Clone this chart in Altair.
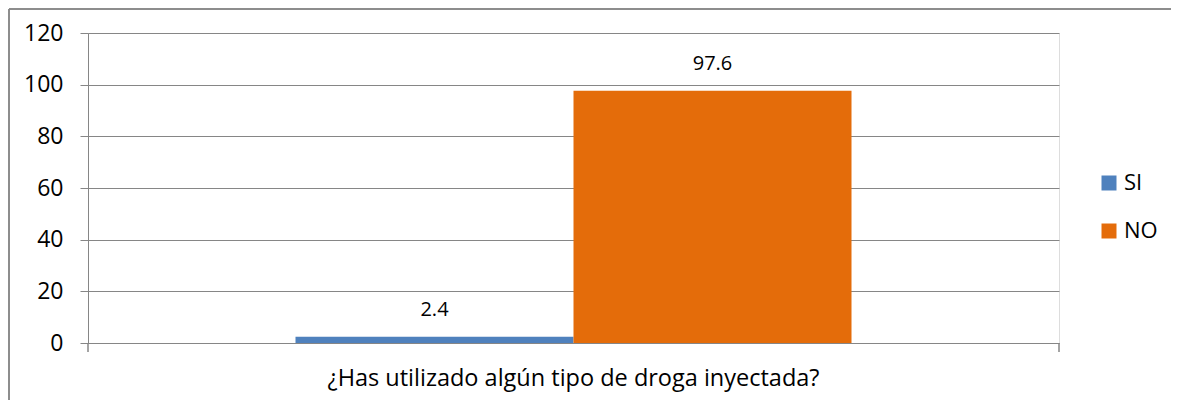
import altair as alt
import pandas as pd

# ---- data ----
question = ["¿Has utilizado algún tipo de droga inyectada?"]
series = ["SI", "NO"]
values = [2.4, 97.6]
y_ticks = [0, 20, 40, 60, 80, 100, 120]
colors = ["#4F81BD", "#E46C0A"]

df = pd.DataFrame({
    "pregunta": question * len(series),
    "serie": series,
    "valor": values,
})

FONT = "Open Sans"
GRID = "#868686"
W, H = 971, 310
FS = 23

x_enc = alt.X(
    "pregunta:N",
    scale=alt.Scale(paddingInner=0, paddingOuter=0.3732),
    axis=alt.Axis(
        title=None, labelAngle=0, ticks=False, domain=True, domainColor=GRID,
        domainWidth=1, labelPadding=23, labelFontSize=23.5, labelFont=FONT,
        labelColor="#000000", labelLimit=0, grid=False,
    ),
)
xo_enc = alt.XOffset("serie:N", sort=series,
                     scale=alt.Scale(paddingInner=0, paddingOuter=0))
y_enc = alt.Y(
    "valor:Q",
    scale=alt.Scale(domain=[0, 120], nice=False, zero=True),
    axis=alt.Axis(
        title=None, values=y_ticks, tickSize=8, tickColor=GRID, tickWidth=1,
        domainColor=GRID, domainWidth=1, grid=True, gridColor=GRID, gridWidth=1,
        labelFontSize=FS, labelFont=FONT, labelColor="#000000", labelPadding=17,
    ),
)

base = alt.Chart(df)

bars = base.mark_bar().encode(
    x=x_enc,
    xOffset=xo_enc,
    y=y_enc,
    color=alt.Color(
        "serie:N", sort=series,
        scale=alt.Scale(domain=series, range=colors),
        legend=alt.Legend(
            title=None, orient="none", legendX=1010, legendY=139,
            symbolType="square", symbolSize=225, symbolStrokeWidth=0,
            labelFontSize=22, labelFont=FONT, labelColor="#000000",
            labelOffset=4, rowPadding=26, padding=0,
        ),
    ),
)

labels = base.mark_text(baseline="bottom", dy=-17, fontSize=20, font=FONT,
                        color="#000000").encode(
    x=x_enc,
    xOffset=xo_enc,
    y=y_enc,
    text=alt.Text("valor:Q", format=".1f"),
)

# category-axis boundary ticks (Excel style, below the axis at both ends)
tick_l = alt.Chart(df).mark_rule(color=GRID, strokeWidth=1).encode(
    x=alt.value(0), y=alt.value(H), y2=alt.value(H + 9))
tick_r = alt.Chart(df).mark_rule(color=GRID, strokeWidth=1).encode(
    x=alt.value(W), y=alt.value(H), y2=alt.value(H + 9))

# chart-area border (left and top edges visible in reference)
border_l = alt.Chart(df).mark_rule(color=GRID, strokeWidth=1.5).encode(
    x=alt.value(-79), y=alt.value(-24), y2=alt.value(H + 80))
border_t = alt.Chart(df).mark_rule(color=GRID, strokeWidth=1.5).encode(
    x=alt.value(-79), x2=alt.value(W + 200), y=alt.value(-24))

chart = alt.layer(bars, labels, tick_l, tick_r, border_l, border_t).properties(
    width=W, height=H,
    autosize=alt.AutoSizeParams(type="none"),
    padding={"left": 80, "top": 25, "right": 112, "bottom": 57},
).configure_view(stroke=None).configure(background="#ffffff")

chart.save("out.html", embed_options={"renderer": "svg", "actions": False})
